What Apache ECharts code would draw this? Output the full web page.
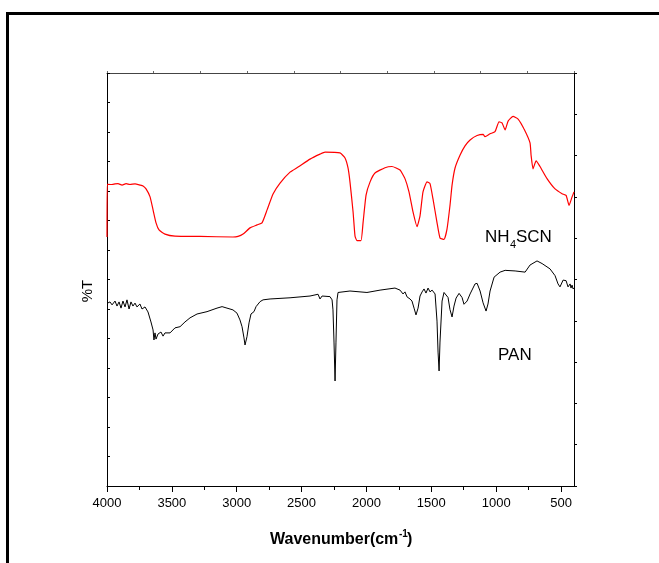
<!DOCTYPE html>
<html>
<head>
<meta charset="utf-8">
<script src="https://cdn.jsdelivr.net/npm/echarts@6/dist/echarts.min.js"></script>
<style>
html,body{margin:0;padding:0;background:#fff;}
#chart{width:659px;height:563px;}
</style>
</head>
<body>
<div id="chart"></div>
<script>
// ---- Data (wavenumber in cm^-1, transmittance in arbitrary %T units) ----
var nh4scnWavenumber = [4000,3998,3961,3938,3915,3884,3853,3823,3784,3746,3722,3699,3668,3645,3622,3599,3553,3476,3283,3029,2990,2951,2897,2843,2805,2766,2720,2666,2589,2527,2435,2358,2319,2204,2165,2142,2127,2103,2088,2073,2042,2026,2003,1972,1934,1857,1803,1741,1703,1672,1641,1610,1587,1564,1533,1510,1487,1456,1433,1402,1379,1356,1340,1317,1278,1240,1201,1147,1101,1086,1047,1009,978,955,931,908,870,831,785,739,731,716,692,662,608,546,492,461,438,415,400];
var nh4scnT = [84.4,102.3,102.2,102.4,102.5,102.0,102.5,102.2,102.4,102.0,101.7,100.7,98.0,93.6,89.2,86.8,85.4,84.7,84.6,84.4,84.6,85.4,87.5,88.5,89.2,93.6,99.0,102.7,106.4,108.1,110.8,112.5,113.2,112.9,111.2,107.8,103.1,92.9,84.7,83.2,83.2,89.3,98.6,103.1,106.1,107.9,108.3,107.1,104.2,99.7,92.9,87.9,91.6,99.7,103.1,102.5,97.3,89.3,84.1,83.6,87.1,95.1,102.0,107.8,112.2,115.3,117.3,118.8,119.2,118.4,119.4,120.1,123.4,123.1,120.7,123.7,125.3,124.4,121.0,116.3,112.2,107.5,110.2,108.3,104.2,100.7,99.1,98.5,95.1,98.0,99.7];

var panWavenumber = [4000,3977,3961,3938,3923,3907,3892,3877,3861,3846,3830,3815,3800,3784,3769,3746,3730,3707,3684,3661,3645,3638,3630,3622,3607,3584,3568,3553,3514,3476,3437,3399,3360,3306,3229,3152,3113,3075,3029,2998,2975,2959,2944,2936,2921,2905,2890,2867,2851,2820,2797,2743,2589,2435,2373,2358,2342,2281,2265,2258,2250,2242,2235,2227,2219,2204,2127,1996,1895,1780,1741,1718,1703,1687,1672,1664,1649,1633,1618,1602,1587,1571,1556,1541,1525,1510,1494,1471,1456,1448,1440,1433,1417,1402,1387,1371,1356,1340,1325,1309,1286,1263,1248,1224,1201,1163,1147,1124,1101,1078,1063,1047,1016,970,931,854,777,739,685,646,585,546,523,508,484,461,446,430,423,415,407,400];
var panT = [61.9,62.4,61.4,62.7,61.0,62.4,60.3,62.7,60.7,63.1,60.0,62.4,61.0,62.0,60.7,61.7,60.0,60.7,59.0,55.6,52.9,49.5,51.9,49.8,51.5,52.2,50.8,51.9,51.9,53.6,54.0,55.6,57.0,58.3,59.1,60.3,60.8,60.3,59.7,58.6,56.3,54.0,50.2,47.8,50.6,55.3,58.3,59.1,60.8,62.5,63.1,63.4,63.8,64.4,65.0,63.4,64.4,64.2,63.1,59.7,48.8,35.6,48.5,63.1,65.6,66.2,66.1,65.6,66.4,67.1,66.4,65.1,65.8,64.1,64.7,63.4,62.7,60.3,58.0,60.3,64.4,65.8,66.8,65.4,67.1,65.8,66.4,65.1,55.9,45.4,39.0,48.8,62.7,65.6,66.1,63.9,59.8,57.3,61.0,63.7,65.3,63.9,61.6,62.7,65.1,68.5,68.7,66.1,62.1,59.3,61.7,66.1,70.8,72.5,73.1,72.9,72.5,74.9,76.3,75.4,73.6,71.3,68.5,67.5,69.8,69.6,67.5,68.5,67.1,68.1,66.8,67.1];

var xMajorTicks = [4000,3500,3000,2500,2000,1500,1000,500];
var xMinorTicks = [3750,3250,2750,2250,1750,1250,750];
var xTitle = 'Wavenumber(cm';
var xTitleSup = '-1';
var xTitleEnd = ')';
var yTitle = '%T';
var label1Parts = ['NH', '4', 'SCN'];
var label2 = 'PAN';

function pairs(xs, ys) {
  var out = [];
  for (var i = 0; i < xs.length; i++) out.push([xs[i], ys[i]]);
  return out;
}

var FONT = 'Arial, "Liberation Sans", sans-serif';
var chart = echarts.init(document.getElementById('chart'), null, {renderer: 'canvas'});

var option = {
  animation: false,
  backgroundColor: '#ffffff',
  grid: {left: 107, top: 73, width: 467, height: 413, containLabel: false},
  xAxis: [
    {
      type: 'value', position: 'bottom', min: 400, max: 4000, inverse: true,
      axisLine: {show: true, onZero: false, lineStyle: {color: '#000', width: 1}},
      axisTick: {show: true, inside: false, length: 6, customValues: xMajorTicks, lineStyle: {color: '#000', width: 1}},
      axisLabel: {show: true, customValues: xMajorTicks, margin: 11, color: '#000', fontSize: 13, fontFamily: FONT,
        formatter: function (v) { return String(v); }},
      splitLine: {show: false}
    },
    {
      type: 'value', position: 'bottom', min: 400, max: 4000, inverse: true,
      axisLine: {show: false, onZero: false},
      axisTick: {show: true, inside: false, length: 4, customValues: xMinorTicks, lineStyle: {color: '#000', width: 1}},
      axisLabel: {show: false},
      splitLine: {show: false}
    },
    {
      type: 'value', position: 'top', min: 0, max: 10, interval: 1,
      axisLine: {show: true, onZero: false, lineStyle: {color: '#444', width: 1}},
      axisTick: {show: true, inside: false, length: 2, lineStyle: {color: '#666', width: 1}},
      axisLabel: {show: false},
      splitLine: {show: false}
    }
  ],
  yAxis: [
    {
      type: 'value', position: 'left', min: 0, max: 140, interval: 10,
      axisLine: {show: true, onZero: false, lineStyle: {color: '#000', width: 1}},
      axisTick: {show: true, inside: true, length: 3, lineStyle: {color: '#000', width: 1}},
      axisLabel: {show: false},
      splitLine: {show: false}
    },
    {
      type: 'value', position: 'right', min: 0, max: 10, interval: 1,
      axisLine: {show: true, onZero: false, lineStyle: {color: '#000', width: 1}},
      axisTick: {show: true, inside: false, length: 3, lineStyle: {color: '#000', width: 1}},
      axisLabel: {show: false},
      splitLine: {show: false}
    }
  ],
  series: [
    {
      name: 'NH4SCN', type: 'line', xAxisIndex: 0, yAxisIndex: 0,
      data: pairs(nh4scnWavenumber, nh4scnT),
      showSymbol: false, symbol: 'none', smooth: 0.15,
      lineStyle: {color: '#ff0000', width: 1.2}
    },
    {
      name: 'PAN', type: 'line', xAxisIndex: 0, yAxisIndex: 0,
      data: pairs(panWavenumber, panT),
      showSymbol: false, symbol: 'none', smooth: false,
      lineStyle: {color: '#000000', width: 1}
    }
  ],
  graphic: [
    {
      type: 'rect', silent: true,
      shape: {x: 7.5, y: 13.5, width: 720, height: 620},
      style: {fill: 'none', stroke: '#000', lineWidth: 3}
    },
    {
      type: 'text', x: 88, y: 291, rotation: Math.PI / 2,
      style: {text: yTitle, fill: '#000', font: '15px ' + FONT, textAlign: 'center', textVerticalAlign: 'middle'}
    },
    {
      type: 'text', x: 270, y: 540,
      style: {text: xTitle, fill: '#000', font: 'bold 16px ' + FONT, textAlign: 'left', textVerticalAlign: 'middle'}
    },
    {
      type: 'text', x: 399, y: 534,
      style: {text: xTitleSup, fill: '#000', font: 'bold 10px ' + FONT, textAlign: 'left', textVerticalAlign: 'middle'}
    },
    {
      type: 'text', x: 407, y: 540,
      style: {text: xTitleEnd, fill: '#000', font: 'bold 16px ' + FONT, textAlign: 'left', textVerticalAlign: 'middle'}
    },
    {
      type: 'text', x: 485, y: 237,
      style: {text: label1Parts[0], fill: '#000', font: '17px ' + FONT, textAlign: 'left', textVerticalAlign: 'middle'}
    },
    {
      type: 'text', x: 510, y: 245,
      style: {text: label1Parts[1], fill: '#000', font: '11px ' + FONT, textAlign: 'left', textVerticalAlign: 'middle'}
    },
    {
      type: 'text', x: 516, y: 237,
      style: {text: label1Parts[2], fill: '#000', font: '17px ' + FONT, textAlign: 'left', textVerticalAlign: 'middle'}
    },
    {
      type: 'text', x: 498, y: 355,
      style: {text: label2, fill: '#000', font: '17px ' + FONT, textAlign: 'left', textVerticalAlign: 'middle'}
    }
  ]
};
chart.setOption(option);
</script>
</body>
</html>
